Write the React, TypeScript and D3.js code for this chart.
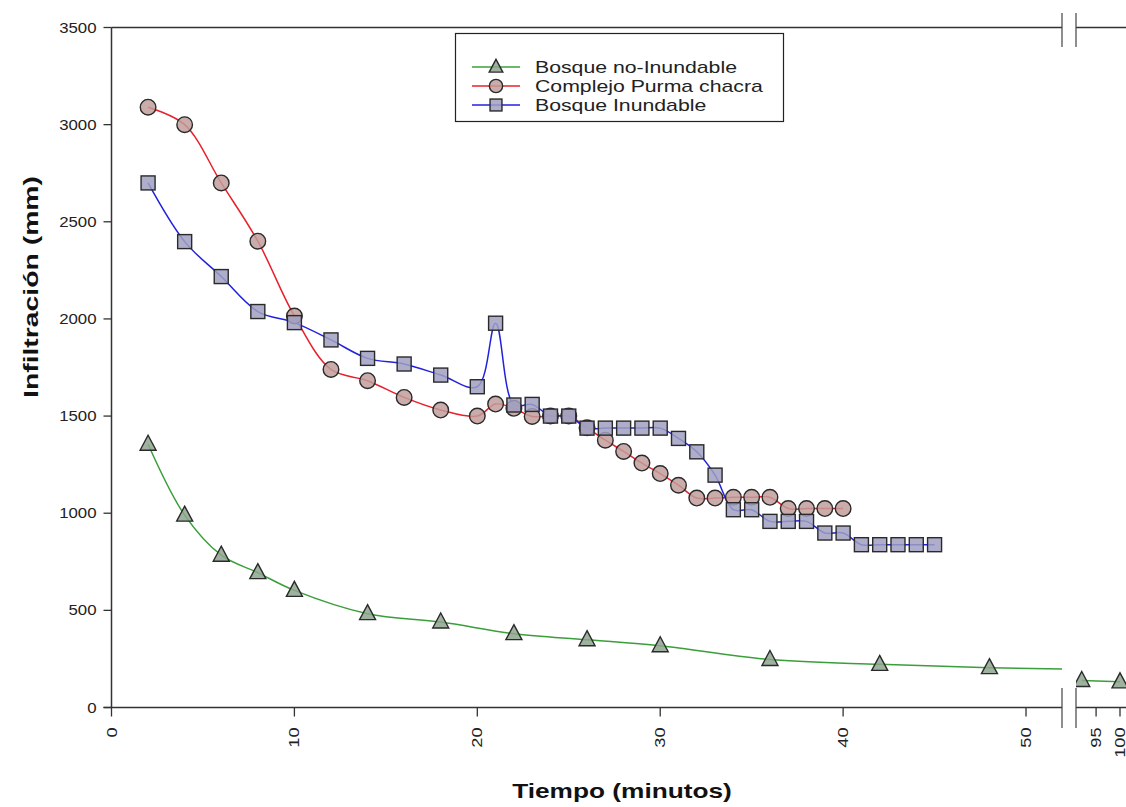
import React from "react";
import * as d3 from "d3";

// ---- data ----
const greenTime = [2, 4, 6, 8, 10, 14, 18, 22, 26, 30, 36, 42, 48, 92, 100];
const greenVal = [1355, 990, 784, 694, 603, 483, 440, 380, 349, 318, 247, 222, 205, 139, 132];

const redTime = [2, 4, 6, 8, 10, 12, 14, 16, 18, 20, 21, 22, 23, 24, 25, 26, 27, 28, 29, 30, 31, 32, 33, 34, 35, 36, 37, 38, 39, 40];
const redVal = [3090, 3000, 2700, 2400, 2015, 1740, 1682, 1596, 1531, 1500, 1562, 1540, 1498, 1500, 1500, 1440, 1376, 1318, 1258, 1204, 1144, 1078, 1078, 1082, 1082, 1082, 1024, 1024, 1024, 1024];

const blueTime = [2, 4, 6, 8, 10, 12, 14, 16, 18, 20, 21, 22, 23, 24, 25, 26, 27, 28, 29, 30, 31, 32, 33, 34, 35, 36, 37, 38, 39, 40, 41, 42, 43, 44, 45];
const blueVal = [2700, 2398, 2218, 2038, 1981, 1892, 1797, 1768, 1711, 1651, 1978, 1557, 1560, 1500, 1500, 1438, 1438, 1438, 1438, 1438, 1385, 1316, 1196, 1018, 1018, 958, 958, 958, 898, 898, 838, 838, 838, 838, 838];

const yTicks = [0, 500, 1000, 1500, 2000, 2500, 3000, 3500];
const xTicks1 = [0, 10, 20, 30, 40, 50];
const xTicks2 = [95, 100];

const seriesNames = ["Bosque no-Inundable", "Complejo Purma chacra", "Bosque Inundable"];

const W = 1126;
const H = 807;
const X0 = 111.5;
const BREAK_L = 1062;
const BREAK_R = 1076;
const Y0 = 707.5;
const YTOP = 27.5;

const x1 = d3.scaleLinear().domain([0, 52]).range([X0, 1062.6]);
const x2 = d3.scaleLinear().domain([90.8, 100]).range([BREAK_R, 1120]);
const y = d3.scaleLinear().domain([0, 3500]).range([Y0, YTOP]);

type Pt = [number, number];

const series = [
  { name: seriesNames[0], t: greenTime, v: greenVal, line: "#3a9f3a", fill: "#8ea58e", shape: "tri" },
  { name: seriesNames[1], t: redTime, v: redVal, line: "#e8202a", fill: "#c19d9b", shape: "circ" },
  { name: seriesNames[2], t: blueTime, v: blueVal, line: "#2222dd", fill: "#a0a0c2", shape: "sq" },
];

function Marker({ shape, cx, cy, fill, s = 1 }: { shape: string; cx: number; cy: number; fill: string; s?: number }) {
  const stroke = "#2a2a2a";
  const sw = 1.4;
  const fo = 0.85;
  if (shape === "tri") {
    const h = 15 * s;
    const w = 16 * s;
    const p = `M${cx},${cy - h * 0.6} L${cx + w / 2},${cy + h * 0.4} L${cx - w / 2},${cy + h * 0.4} Z`;
    return <path d={p} fill={fill} fillOpacity={fo} stroke={stroke} strokeWidth={sw} />;
  }
  if (shape === "circ") {
    return <circle cx={cx} cy={cy} r={7.8 * s} fill={fill} fillOpacity={fo} stroke={stroke} strokeWidth={sw} />;
  }
  const a = 14 * s;
  return <rect x={cx - a / 2} y={cy - a / 2} width={a} height={a} fill={fill} fillOpacity={fo} stroke={stroke} strokeWidth={sw} />;
}

export default function App() {
  const lineGen = (xs: d3.ScaleLinear<number, number>) =>
    d3
      .line<Pt>()
      .x((d) => xs(d[0]))
      .y((d) => y(d[1]))
      .curve(d3.curveCatmullRom.alpha(0.5));

  const font = "'Liberation Sans', Arial, Helvetica, sans-serif";

  return (
    <svg width={W} height={H} style={{ position: "absolute", left: 0, top: 0, background: "#fff" }} fontFamily={font}>
      <defs>
        <clipPath id="c1">
          <rect x={X0} y={0} width={BREAK_L - X0} height={Y0} />
        </clipPath>
        <clipPath id="c2">
          <rect x={BREAK_R} y={0} width={W - BREAK_R} height={Y0} />
        </clipPath>
      </defs>

      {/* frame top */}
      <line x1={X0} x2={BREAK_L} y1={YTOP} y2={YTOP} stroke="#333" strokeWidth={1.5} />
      <line x1={BREAK_R} x2={W} y1={YTOP} y2={YTOP} stroke="#333" strokeWidth={1.5} />
      <line x1={BREAK_L} x2={BREAK_L} y1={13} y2={47} stroke="#444" strokeWidth={1.2} />
      <line x1={BREAK_R} x2={BREAK_R} y1={13} y2={47} stroke="#444" strokeWidth={1.2} />

      {/* y axis */}
      <line x1={X0} x2={X0} y1={YTOP} y2={Y0} stroke="#333" strokeWidth={1.5} />
      {yTicks.map((t) => (
        <g key={t}>
          <line x1={X0 - 8} x2={X0} y1={y(t)} y2={y(t)} stroke="#333" strokeWidth={1.3} />
          <g transform={`translate(${X0 - 15},${y(t) + 5}) scale(1.2,1)`}>
            <text textAnchor="end" fontSize={14} fill="#222">
              {t}
            </text>
          </g>
        </g>
      ))}

      {/* x axis */}
      <line x1={X0 - 8} x2={BREAK_L} y1={Y0} y2={Y0} stroke="#333" strokeWidth={1.5} />
      <line x1={BREAK_R} x2={W} y1={Y0} y2={Y0} stroke="#333" strokeWidth={1.5} />
      <line x1={BREAK_L} x2={BREAK_L} y1={688} y2={728} stroke="#444" strokeWidth={1.2} />
      <line x1={BREAK_R} x2={BREAK_R} y1={688} y2={728} stroke="#444" strokeWidth={1.2} />
      {xTicks1.map((t) => (
        <g key={"a" + t}>
          <line x1={x1(t)} x2={x1(t)} y1={Y0} y2={Y0 + 9} stroke="#333" strokeWidth={1.3} />
          <g transform={`translate(${x1(t) + 5},${Y0 + 20}) rotate(-90) scale(1.3,1)`}>
            <text textAnchor="end" fontSize={14} fill="#222">
              {t}
            </text>
          </g>
        </g>
      ))}
      {xTicks2.map((t) => (
        <g key={"b" + t}>
          <line x1={x2(t)} x2={x2(t)} y1={Y0} y2={Y0 + 9} stroke="#333" strokeWidth={1.3} />
          <g transform={`translate(${x2(t) + 5},${Y0 + 20}) rotate(-90) scale(1.3,1)`}>
            <text textAnchor="end" fontSize={14} fill="#222">
              {t}
            </text>
          </g>
        </g>
      ))}

      {/* titles */}
      <g transform={`translate(622,798) scale(1.25,1)`}>
        <text textAnchor="middle" fontSize={21} fontWeight="bold" fill="#111">
          Tiempo (minutos)
        </text>
      </g>
      <g transform={`translate(38,287) rotate(-90)`}>
        <text textAnchor="middle" fontSize={21} fontWeight="bold" fill="#111" transform="scale(1.35,1)">
          Infiltración (mm)
        </text>
      </g>

      {/* series: left segment */}
      <g clipPath="url(#c1)">
        {series.map((s) => {
          const pts: Pt[] = s.t.map((t, i) => [t, s.v[i]] as Pt);
          return <path key={s.name} d={lineGen(x1)(pts) || ""} fill="none" stroke={s.line} strokeWidth={1.5} />;
        })}
        {series.map((s) =>
          s.t.map((t, i) =>
            t <= 60 ? <Marker key={s.name + t} shape={s.shape} cx={x1(t)} cy={y(s.v[i])} fill={s.fill} /> : null
          )
        )}
      </g>
      {/* series: right segment */}
      <g clipPath="url(#c2)">
        {series.map((s) => {
          const pts: Pt[] = s.t.map((t, i) => [t, s.v[i]] as Pt).filter((d) => d[0] > 60);
          if (pts.length < 2) return null;
          return <path key={s.name} d={lineGen(x2)(pts) || ""} fill="none" stroke={s.line} strokeWidth={1.5} />;
        })}
        {series.map((s) =>
          s.t.map((t, i) =>
            t > 60 ? <Marker key={s.name + t} shape={s.shape} cx={x2(t)} cy={y(s.v[i])} fill={s.fill} /> : null
          )
        )}
      </g>

      {/* legend */}
      <rect x={455.5} y={33.5} width={328} height={88} fill="#fff" stroke="#222" strokeWidth={1.2} />
      {series.map((s, i) => {
        const ly = 67 + i * 19;
        return (
          <g key={"lg" + s.name}>
            <line x1={472} x2={520} y1={ly} y2={ly} stroke={s.line} strokeWidth={1.5} />
            <Marker shape={s.shape} cx={496} cy={ly} fill={s.fill} s={0.85} />
            <g transform={`translate(535,${ly + 6}) scale(1.25,1)`}>
              <text fontSize={17} fill="#222">
                {s.name}
              </text>
            </g>
          </g>
        );
      })}
    </svg>
  );
}
